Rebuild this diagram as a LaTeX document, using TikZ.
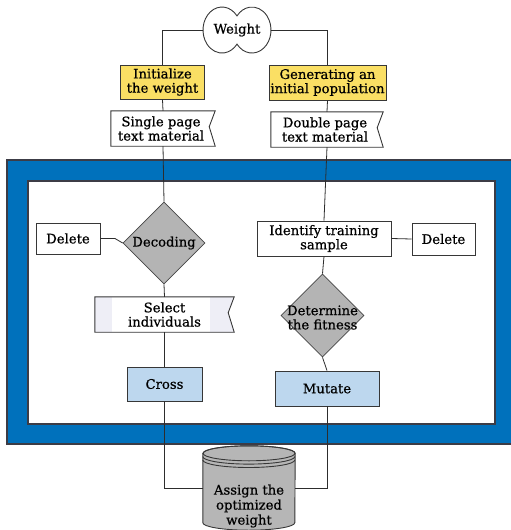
\documentclass[tikz,border=0pt]{standalone}
\usepackage{fontspec}
\setmainfont[FakeBold=0.7]{DejaVu Serif}
\usetikzlibrary{calc,shapes.geometric}
\definecolor{bluec}{RGB}{0,113,188}
\definecolor{yellowc}{RGB}{250,223,100}
\definecolor{lightbluec}{RGB}{189,215,238}
\definecolor{grayc}{RGB}{180,180,180}
\definecolor{cylc}{RGB}{182,182,182}
\definecolor{bordc}{RGB}{55,55,55}
\definecolor{linec}{RGB}{45,45,45}
\definecolor{framec}{RGB}{60,60,70}
\definecolor{bandc}{RGB}{238,238,246}
\newcommand\flagpath[1]{%
  \draw[bordc, line width=0.9pt, fill=white] (#1.north west) -- (#1.north east)
    -- ($(#1.north east)!0.45!(#1.south east)+(-6,0)$) -- (#1.south east)
    -- (#1.south west) -- cycle;}
\begin{document}
\begin{tikzpicture}[x=1pt,y=-1pt,
  txt/.style={font=\fontsize{13.2}{14.2}\selectfont, align=center, inner sep=0pt},
  box/.style={txt, draw=bordc, line width=0.9pt, fill=white},
  ghost/.style={draw=none, inner sep=0pt},
  dia/.style={diamond, shape aspect=1, draw=gray!55!black, line width=0.8pt, fill=grayc, inner sep=0pt},
  conn/.style={draw=linec, line width=0.8pt}]
\useasboundingbox (0,0) rectangle (511,530);
% frame
\fill[bluec] (7,160) rectangle (520,444);
\draw[framec, line width=1.1pt] (520,160) -- (7,160) -- (7,444) -- (520,444);
\fill[white] (28,181) rectangle (495,424);
\draw[framec, line width=1.3pt] (28,181) rectangle (495,424);
% nodes (placement)
\node[ghost, minimum width=68, minimum height=46] (w) at (237,30) {};
\node[box, fill=yellowc, minimum width=84, minimum height=34] (init) at (162.5,82) {Initialize\\the weight};
\node[box, fill=yellowc, minimum width=117, minimum height=35] (gen) at (327.5,82.5) {Generating an\\initial population};
\node[ghost, minimum width=104, minimum height=35] (sp) at (163,128.5) {};
\node[ghost, minimum width=112, minimum height=35] (dp) at (327,129.5) {};
\node[box, minimum width=64, minimum height=31] (delL) at (68,238.5) {Delete};
\node[dia, minimum width=82, minimum height=82] (dec) at (164,243) {};
\node[box, minimum width=134, minimum height=35] (id) at (324,238.5) {Identify training\\sample};
\node[box, minimum width=63, minimum height=32] (delR) at (443.5,239) {Delete};
\node[dia, minimum width=83, minimum height=83] (det) at (322.5,315.5) {};
\node[ghost, minimum width=139, minimum height=35] (sel) at (164.5,314.5) {};
\node[box, fill=lightbluec, minimum width=75, minimum height=34] (cross) at (164.5,384) {Cross};
\node[box, fill=lightbluec, minimum width=104, minimum height=35] (mut) at (327,388.5) {Mutate};
\node[ghost, minimum width=92, minimum height=84] (cyl) at (249,488) {};
\coordinate (kink) at (115,238.5);
% weight shape
\draw[bordc, line width=0.9pt, fill=white] ($(w)+(0,-14.1)$)
  arc[start angle=37.9, end angle=322.1, x radius=19pt, y radius=23pt]
  arc[start angle=217.9, end angle=502.1, x radius=19pt, y radius=23pt] -- cycle;
\node[txt] (wtext) at (w) {Weight};
% flags
\flagpath{sp}
\node[txt] (sptext) at ($(sp)+(-2,0)$) {Single page\\text material};
\flagpath{dp}
\node[txt] (dptext) at ($(dp)+(-2,0)$) {Double page\\text material};
\fill[bandc] (sel.north west) -- (sel.north east)
    -- ($(sel.north east)!0.45!(sel.south east)+(-6,0)$) -- (sel.south east)
    -- (sel.south west) -- cycle;
\fill[white] ($(sel.north west)+(17,0)$) rectangle ($(sel.south east)+(-24,0)$);
\draw[bordc, line width=0.9pt] (sel.north west) -- (sel.north east)
    -- ($(sel.north east)!0.45!(sel.south east)+(-6,0)$) -- (sel.south east)
    -- (sel.south west) -- cycle;
\node[txt] (seltext) at (sel) {Select\\individuals};
\node[txt] (dectext) at (dec) {Decoding};
\node[txt] (dettext) at ($(det)+(0,2)$) {Determine\\the fitness};
% cylinder
\draw[bordc, line width=0.9pt, fill=cylc] ($(cyl.north west)+(0,7.5)$) -- ($(cyl.south west)+(0,-7.5)$)
  arc[start angle=180, end angle=360, x radius=46pt, y radius=7.5pt]
  -- ($(cyl.north east)+(0,7.5)$)
  arc[start angle=0, end angle=180, x radius=46pt, y radius=7.5pt] -- cycle;
\draw[bordc, line width=0.9pt] ($(cyl.north)+(0,7.5)$) ellipse[x radius=46pt, y radius=7.5pt];
\draw[bordc, line width=0.9pt] ($(cyl.north west)+(0,10.8)$) arc[start angle=180, end angle=360, x radius=46pt, y radius=7.5pt];
\draw[bordc, line width=0.9pt] ($(cyl.north west)+(0,14.2)$) arc[start angle=180, end angle=360, x radius=46pt, y radius=7.5pt];
\node[txt, font=\fontsize{13.2}{15}\selectfont] (cyltext) at (249,506) {Assign the\\optimized\\weight};
% connectors
\draw[conn] (w.west) -| (init.north);
\draw[conn] (w.east) -| (gen.north);
\draw[conn] (init.south) -- (sp.north);
\draw[conn] (gen.south) -- (dp.north);
\draw[conn] (sp.south) -- (dec.north);
\draw[conn] (dp.south) -- (id.north);
\draw[conn] (id.south) -- (det.north);
\draw[conn] (det.south) -- (mut.north);
\draw[conn] (dec.south) -- (sel.north);
\draw[conn] (sel.south) -- (cross.north);
\draw[conn] (cross.south) |- (cyl.west);
\draw[conn] (mut.south) |- (cyl.east);
\draw[conn] (delL.east) -- (kink) -- (dec.west);
\draw[conn] (id.east) -- (delR.west);
\end{tikzpicture}
\end{document}
